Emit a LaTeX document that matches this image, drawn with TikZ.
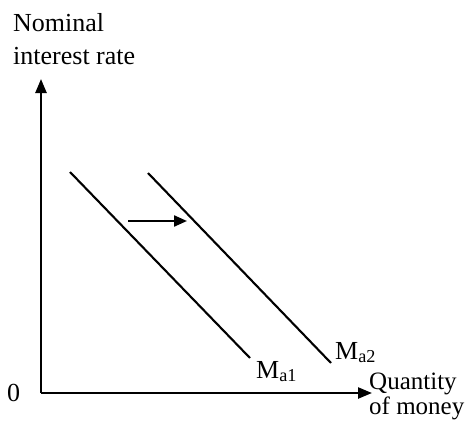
\documentclass[tikz,border=0pt]{standalone}
\usepackage{fontspec}
\setmainfont{Liberation Serif}
\usetikzlibrary{arrows.meta}
\begin{document}
\begin{tikzpicture}[x=1pt,y=-1pt,
  axis/.style={line width=2.4pt,-{Triangle[length=14pt,width=11pt]}},
  curve/.style={line width=2.1pt},
  lbl/.style={font=\fontsize{26}{28}\selectfont,inner sep=0pt}]
\useasboundingbox (0,0) rectangle (472,421);
\coordinate (O) at (41,393);
\coordinate (ytip) at (41,79);
\coordinate (xtip) at (372,393);
\draw[axis] (O) -- (ytip);
\draw[axis] (O) -- (xtip);
\coordinate (a1s) at (70,172);
\coordinate (a1e) at (250,358);
\coordinate (a2s) at (148,173);
\coordinate (a2e) at (331,363);
\draw[curve] (a1s) -- (a1e);
\draw[curve] (a2s) -- (a2e);
\coordinate (sh1) at (128,221);
\coordinate (sh2) at (187,221);
\draw[line width=2.2pt,-{Triangle[length=13pt,width=11pt]}] (sh1) -- (sh2);
\node[lbl,anchor=base west,align=left,font=\fontsize{26}{33}\selectfont] (ylab) at (13,64) {Nominal\\interest rate};
\node[lbl,anchor=base west,align=left,font=\fontsize{25}{24.5}\selectfont] (xlab) at (369,414) {Quantity\\of money};
\node[lbl,anchor=base west] (zero) at (7,401) {0};
\node[lbl,anchor=base west] (m1) at (256,378) {M\textsubscript{a1}};
\node[lbl,anchor=base west] (m2) at (335,359) {M\textsubscript{a2}};
\end{tikzpicture}
\end{document}
